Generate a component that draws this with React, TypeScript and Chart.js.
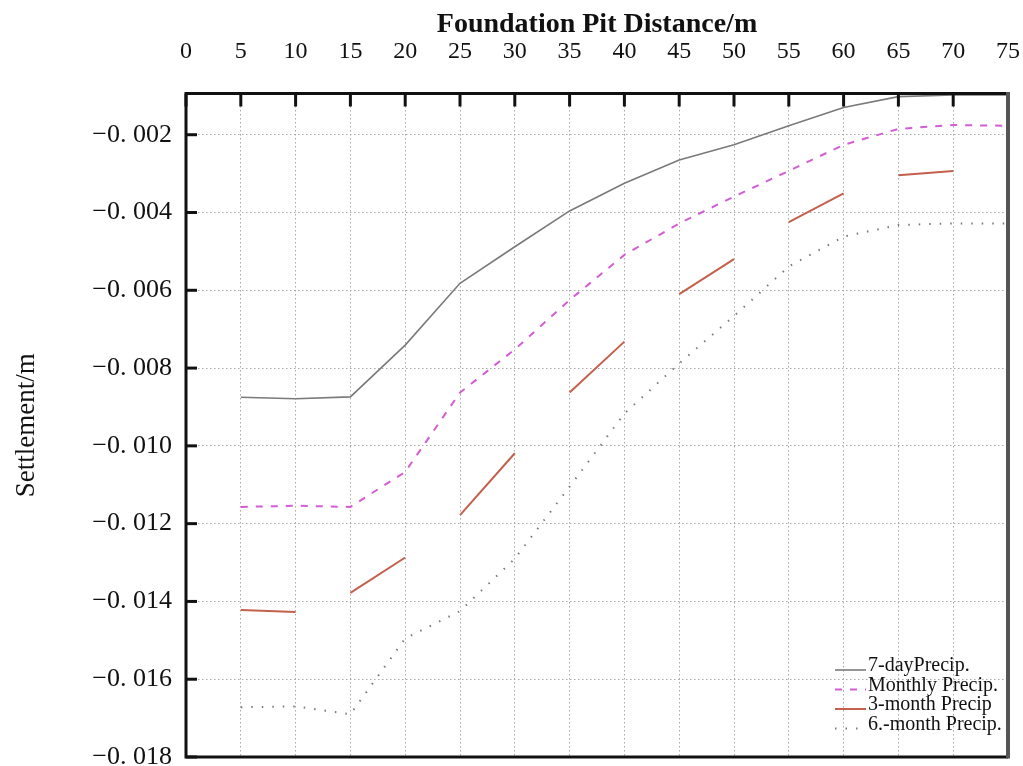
import React, { useEffect, useRef } from 'react';
import { Chart, registerables } from 'chart.js';

Chart.register(...registerables);

// ---- data ----
const distances = [5, 10, 15, 20, 25, 30, 35, 40, 45, 50, 55, 60, 65, 70, 75];
const sevenDayPrecip = [-0.00875, -0.00879, -0.00874, -0.00741, -0.00582, -0.00488, -0.00396, -0.00325, -0.00265, -0.00226, -0.00177, -0.0013, -0.00102, -0.00098, -0.00098];
const monthlyPrecip = [-0.01157, -0.01154, -0.01157, -0.01067, -0.00863, -0.00752, -0.00625, -0.00509, -0.00428, -0.00359, -0.00293, -0.00226, -0.00185, -0.00175, -0.00177];
const sixMonthPrecip = [-0.01672, -0.0167, -0.0169, -0.01495, -0.01425, -0.0129, -0.01105, -0.00917, -0.00788, -0.00666, -0.00539, -0.00462, -0.00432, -0.00428, -0.00428];
const threeMonthStart = [5, 15, 25, 35, 45, 55, 65];
const threeMonthEnd = [10, 20, 30, 40, 50, 60, 70];
const threeMonthStartValues = [-0.01422, -0.01378, -0.01178, -0.00863, -0.0061, -0.00425, -0.00304];
const threeMonthEndValues = [-0.01427, -0.01287, -0.01019, -0.00732, -0.0052, -0.00351, -0.00293];
const seriesLabels = ['7-dayPrecip.', 'Monthly Precip.', '3-month Precip', '6.-month Precip.'];
const xTitle = 'Foundation Pit Distance/m';
const yTitle = 'Settlement/m';
const xMin = 0;
const xMax = 75;
const xStep = 5;
const yMin = -0.018;
const yMax = -0.00094;
const yStep = 0.002;

const SERIF = '"Liberation Serif", "Times New Roman", serif';

const pairs = (xs: number[], ys: number[]) => xs.map((x, i) => ({ x, y: ys[i] }));

const threeMonthData = (() => {
  const out: { x: number; y: number | null }[] = [];
  threeMonthStart.forEach((s, i) => {
    out.push({ x: s, y: threeMonthStartValues[i] });
    out.push({ x: threeMonthEnd[i], y: threeMonthEndValues[i] });
    out.push({ x: threeMonthEnd[i] + 2.5, y: null });
  });
  return out;
})();

const framePlugin = {
  id: 'frameAndLegend',
  afterDraw(chart: any) {
    const { ctx, chartArea: a, scales } = chart;
    ctx.save();
    // inner tick marks
    ctx.strokeStyle = '#111';
    ctx.lineWidth = 3;
    scales.x.ticks.forEach((t: any) => {
      const px = scales.x.getPixelForValue(t.value);
      ctx.beginPath();
      ctx.moveTo(px, a.top);
      ctx.lineTo(px, a.top + 13);
      ctx.stroke();
    });
    scales.y.ticks.forEach((t: any) => {
      const py = scales.y.getPixelForValue(t.value);
      ctx.beginPath();
      ctx.moveTo(a.left, py);
      ctx.lineTo(a.left + 11, py);
      ctx.stroke();
    });
    // frame
    ctx.lineWidth = 3;
    ctx.beginPath();
    ctx.moveTo(a.right, a.top);
    ctx.lineTo(a.left, a.top);
    ctx.lineTo(a.left, a.bottom);
    ctx.lineTo(a.right, a.bottom);
    ctx.stroke();
    ctx.strokeStyle = '#555';
    ctx.lineWidth = 4;
    ctx.beginPath();
    ctx.moveTo(a.right, a.top - 1.5);
    ctx.lineTo(a.right, a.bottom + 1.5);
    ctx.stroke();

    // legend inside chart area (bottom-right)
    const ds = chart.data.datasets;
    ctx.font = '20px ' + SERIF;
    ctx.textBaseline = 'middle';
    ctx.textAlign = 'left';
    const textX = a.right - 140;
    const lx0 = textX - 33;
    const lx1 = textX - 2;
    ds.forEach((d: any, i: number) => {
      const y = a.bottom - 91 + i * 19.5;
      ctx.save();
      ctx.strokeStyle = d.borderColor;
      ctx.lineWidth = d.borderWidth;
      ctx.setLineDash(d.borderDash || []);
      ctx.beginPath();
      ctx.moveTo(lx0, y + 4);
      ctx.lineTo(lx1, y + 4);
      ctx.stroke();
      ctx.restore();
      ctx.fillStyle = '#111';
      ctx.fillText(d.label, textX, y);
    });
    ctx.restore();
  },
};

const formatY = (v: number) => '\u2212' + Math.abs(v).toFixed(3).replace('.', '. ');

export default function App() {
  const ref = useRef<HTMLCanvasElement | null>(null);

  useEffect(() => {
    if (!ref.current) return;
    const chart = new Chart(ref.current, {
      type: 'line',
      data: {
        datasets: [
          {
            label: seriesLabels[0],
            data: pairs(distances, sevenDayPrecip),
            borderColor: '#7a7a7a',
            borderWidth: 1.6,
            pointRadius: 0,
          },
          {
            label: seriesLabels[1],
            data: pairs(distances, monthlyPrecip),
            borderColor: '#d45cd4',
            borderWidth: 2,
            borderDash: [7, 8],
            pointRadius: 0,
          },
          {
            label: seriesLabels[2],
            data: threeMonthData,
            borderColor: '#c4604c',
            borderWidth: 2,
            pointRadius: 0,
            spanGaps: false,
          },
          {
            label: seriesLabels[3],
            data: pairs(distances, sixMonthPrecip),
            borderColor: '#7a7a7a',
            borderWidth: 2,
            borderDash: [1.5, 9],
            pointRadius: 0,
          },
        ] as any,
      },
      options: {
        animation: false,
        responsive: false,
        devicePixelRatio: 1,
        layout: { padding: { top: 0, right: 15, bottom: 23, left: 0 } },
        plugins: {
          legend: { display: false },
          tooltip: { enabled: false },
        },
        scales: {
          x: {
            type: 'linear',
            position: 'top',
            min: xMin,
            max: xMax,
            ticks: {
              stepSize: xStep,
              color: '#111',
              font: { family: SERIF, size: 24 },
              padding: 27,
              maxRotation: 0,
              autoSkip: false,
            },
            grid: { color: '#a8a8a8', lineWidth: 1, drawTicks: false },
            border: { display: false, dash: [1.5, 2.5] },
            title: {
              display: true,
              text: xTitle,
              color: '#111',
              font: { family: SERIF, size: 28, weight: 'bold' },
              padding: { top: 8, bottom: 0 },
            },
            afterFit: (s: any) => {
              s.height = 93.5;
              s.paddingLeft = 0;
              s.paddingRight = 0;
            },
          },
          y: {
            type: 'linear',
            min: yMin,
            max: yMax,
            ticks: {
              stepSize: yStep,
              includeBounds: true,
              color: '#111',
              font: { family: SERIF, size: 26 },
              padding: 14,
              callback: (v: any) => formatY(Number(v)),
            },
            afterBuildTicks: (s: any) => {
              s.ticks = s.ticks.filter((t: any) => {
                const r = t.value / yStep;
                return Math.abs(r - Math.round(r)) < 1e-6;
              });
            },
            grid: { color: '#a8a8a8', lineWidth: 1, drawTicks: false },
            border: { display: false, dash: [1.5, 2.5] },
            title: {
              display: true,
              text: yTitle,
              color: '#111',
              font: { family: SERIF, size: 27 },
              padding: { top: 11, bottom: 0 },
            },
            afterFit: (s: any) => {
              s.width = 186;
              s.paddingTop = 0;
              s.paddingBottom = 0;
            },
          },
        },
      } as any,
      plugins: [framePlugin],
    });
    return () => chart.destroy();
  }, []);

  return (
    <div
      style={{
        position: 'fixed',
        left: 0,
        top: 0,
        width: 1023,
        height: 766,
        overflow: 'hidden',
        background: '#fff',
      }}
    >
      <canvas ref={ref} width={1023} height={780} style={{ display: 'block', width: 1023, height: 780 }} />
    </div>
  );
}
